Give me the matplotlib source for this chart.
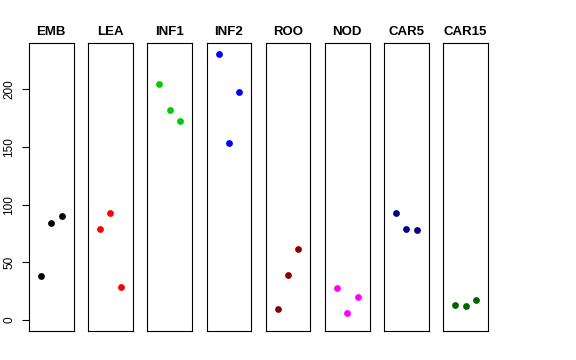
import matplotlib
matplotlib.use('Agg')
import matplotlib.pyplot as plt

plt.rcParams['font.family'] = ['Liberation Sans', 'DejaVu Sans']

# --- Data ---
groups = ['EMB', 'LEA', 'INF1', 'INF2', 'ROO', 'NOD', 'CAR5', 'CAR15']
colors = ['black', '#FF0000', '#00CD00', '#0000FF', '#8B0000', '#FF00FF', '#00008B', '#006400']
reps = [1, 2, 3]
values = {
    'EMB': [38, 84.5, 90],
    'LEA': [78.5, 93, 29],
    'INF1': [204.5, 182, 172.5],
    'INF2': [230.5, 153.5, 197.5],
    'ROO': [9.5, 39.5, 61.5],
    'NOD': [27.7, 6.5, 20.2],
    'CAR5': [93, 79, 78.3],
    'CAR15': [13, 12, 17.3],
}
yticks = [0, 50, 100, 150, 200]

# --- Layout in pixels (576x360 canvas) ---
W, H = 576, 360
lefts = [29, 88.2, 147.4, 206.6, 265.8, 325, 384.2, 443.4]
pw = 44.5
top, bottom = 43, 331

fig = plt.figure(figsize=(W / 100, H / 100), dpi=100)
for i, (g, col) in enumerate(zip(groups, colors)):
    ax = fig.add_axes([lefts[i] / W, (H - bottom) / H, pw / W, (bottom - top) / H])
    ax.scatter(reps, values[g], s=24, c=col, linewidths=0, zorder=3)
    ax.set_xlim(-0.16, 4.16)
    ax.set_ylim(-9.4, 240)
    ax.set_xticks([])
    ax.set_title(g, fontsize=9.5, fontweight='bold', pad=6)
    for sp in ax.spines.values():
        sp.set_linewidth(0.8)
        sp.set_color('black')
    if i == 0:
        ax.set_yticks(yticks)
        ax.tick_params(axis='y', length=5, width=0.8, labelsize=8.5, pad=5)
        for lbl in ax.get_yticklabels():
            lbl.set_rotation(90)
            lbl.set_va('center')
    else:
        ax.set_yticks([])

fig.savefig('out.png', dpi=100, facecolor='white')
plt.close()
